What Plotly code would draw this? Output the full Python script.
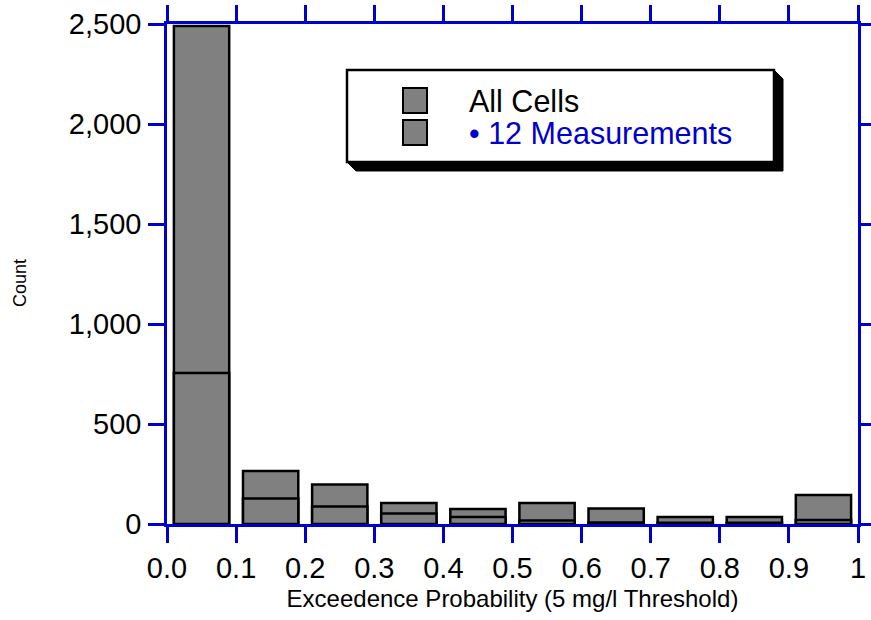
import plotly.graph_objects as go

# Histogram of exceedence probability (5 mg/l threshold)
bin_centers = [0.05, 0.15, 0.25, 0.35, 0.45, 0.55, 0.65, 0.75, 0.85, 0.95]
all_cells = [2490, 265, 198, 105, 75, 105, 77, 35, 35, 145]
measurements_12 = [755, 128, 88, 52, 35, 18, 8, 6, 6, 20]

tick_vals = [0.0, 0.1, 0.2, 0.3, 0.4, 0.5, 0.6, 0.7, 0.8, 0.9, 1.0]
tick_text = ["0.0", "0.1", "0.2", "0.3", "0.4", "0.5", "0.6", "0.7", "0.8", "0.9", "1"]

BLUE = "#0000CC"
GREY = "#808080"
FONT = "Arial, Liberation Sans, Helvetica, sans-serif"

W, H = 871, 620
ML, MR, MT, MB = 167, 13, 24, 96
PW, PH = W - ML - MR, H - MT - MB


def px(x):
    return (x - ML) / PW


def py(y):
    return (H - MB - y) / PH


fig = go.Figure()
for name, vals in [("All Cells", all_cells), ("12 Measurements", measurements_12)]:
    fig.add_trace(go.Bar(
        x=bin_centers, y=vals, width=0.08, name=name,
        marker=dict(color=GREY, line=dict(color="black", width=2.5)),
        showlegend=False,
    ))

axis_common = dict(
    showline=True, linecolor=BLUE, linewidth=2.5, mirror="ticks",
    ticks="outside", ticklen=16, tickwidth=2.5, tickcolor=BLUE,
    showgrid=False, zeroline=False, automargin=False,
    tickfont=dict(family=FONT, size=29, color="black"),
)

fig.update_layout(
    template="none",
    width=W, height=H, barmode="overlay", showlegend=False,
    margin=dict(l=ML, r=MR, t=MT, b=MB, autoexpand=False),
    paper_bgcolor="white", plot_bgcolor="white",
    font=dict(family=FONT, color="black"),
    xaxis=dict(range=[0, 1], tickvals=tick_vals, ticktext=tick_text,
               ticklabelstandoff=0,
               title=dict(text="Exceedence Probability (5 mg/l Threshold)",
                          font=dict(size=24), standoff=8),
               **axis_common),
    yaxis=dict(range=[0, 2500], tickvals=[0, 500, 1000, 1500, 2000, 2500],
               tickformat=",", ticklabelstandoff=1, **axis_common),
)

# y-axis title
fig.add_annotation(text="Count", x=px(20), y=py(283), xref="paper", yref="paper",
                   textangle=-90, showarrow=False, font=dict(size=18, family=FONT),
                   xanchor="center", yanchor="middle")

# Legend box with drop shadow
bx0, by0, bx1, by1 = 347, 70, 774, 162
sh = 9
shadow_path = (
    f"M {px(bx0)},{py(by1)} L {px(bx0 + sh)},{py(by1 + sh)} "
    f"L {px(bx1 + sh)},{py(by1 + sh)} L {px(bx1 + sh)},{py(by0 + sh)} "
    f"L {px(bx1)},{py(by0)} Z"
)
fig.add_shape(type="path", path=shadow_path, xref="paper", yref="paper",
              fillcolor="black", line=dict(color="black", width=1))
fig.add_shape(type="rect", x0=px(bx0), x1=px(bx1), y0=py(by0), y1=py(by1),
              xref="paper", yref="paper", fillcolor="white",
              line=dict(color="black", width=2.5))

legend_rows = [("All Cells", "black", 88, 113), ("\u2022 12 Measurements", BLUE, 120, 145)]
for text, color, y0, y1 in legend_rows:
    fig.add_shape(type="rect", x0=px(403), x1=px(427), y0=py(y0), y1=py(y1),
                  xref="paper", yref="paper", fillcolor=GREY,
                  line=dict(color="black", width=2))
    fig.add_annotation(text=text, x=px(467), y=py((y0 + y1) / 2), xref="paper",
                       yref="paper", showarrow=False, xanchor="left", yanchor="middle",
                       font=dict(size=30.5, color=color, family=FONT))

fig.write_html("out.html")
